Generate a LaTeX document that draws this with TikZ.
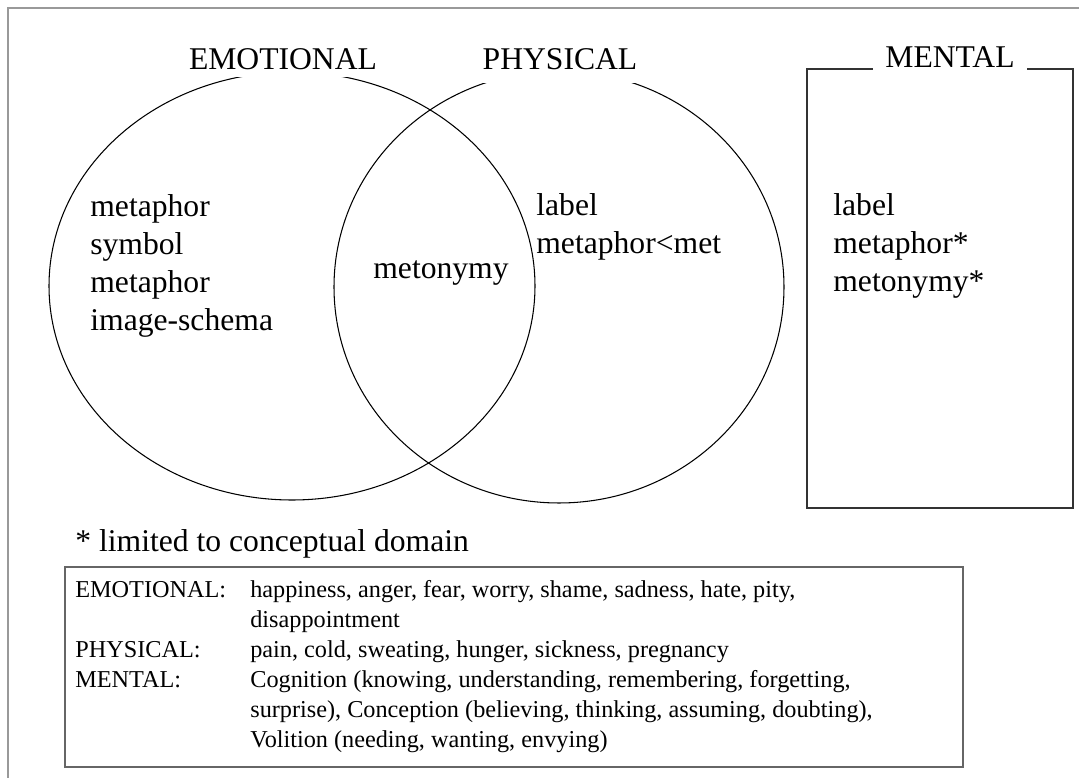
\documentclass[tikz,border=0pt]{standalone}
\usepackage{fontspec}
\setmainfont{Liberation Serif}
\newcommand\bigfont{\fontsize{18}{21.6}\selectfont}
\newcommand\tabfont{\fontsize{13.8}{17}\selectfont}
\tikzset{
  domlabel/.style={fill=white,font=\bigfont,anchor=base,inner xsep=5pt,inner ysep=4pt},
  listtext/.style={font=\bigfont,anchor=base west,inner sep=0pt},
  tabletext/.style={font=\tabfont,anchor=base west,inner sep=0pt}
}
\begin{document}
\begin{tikzpicture}
\useasboundingbox (0,0) rectangle (21.58,15.56);
\fill[white] (0,0) rectangle (21.58,15.56);
\begin{scope}
\clip (0,0) rectangle (21.58,15.56);
\draw[black!40,line width=1.1pt] (0.16,-1) -- (0.16,15.40) -- (23,15.40);
\end{scope}
% the two overlapping domains
\draw[line width=0.6pt] (5.84,9.84) ellipse (4.86 and 4.28);
\draw[line width=0.6pt] (11.18,9.82) ellipse (4.5 and 4.32);
% mental domain
\draw[black!80,line width=0.8pt] (16.14,5.40) rectangle (21.46,14.18);
\node[domlabel] (emo) at (5.66,14.16) {EMOTIONAL};
\node[domlabel,inner ysep=7pt] (phys) at (11.2,14.16) {PHYSICAL};
\node[domlabel,inner xsep=7pt] (ment) at (19.0,14.2) {MENTAL};
\node[listtext] (emolist) at (1.8,11.22) {\begin{tabular}[t]{@{}l@{}}metaphor\\symbol\\metaphor\\image-schema\end{tabular}};
\node[listtext] (metonymy) at (7.46,9.98) {metonymy};
\node[listtext] (physlist) at (10.72,11.24) {\begin{tabular}[t]{@{}l@{}}label\\metaphor<met\end{tabular}};
\node[listtext] (mentlist) at (16.66,11.24) {\begin{tabular}[t]{@{}l@{}}label\\metaphor*\\metonymy*\end{tabular}};
\node[listtext] (note) at (1.5,4.52) {* limited to conceptual domain};
% key to the domains
\draw[black!60,line width=0.6pt] (1.3,0.22) rectangle (19.26,4.22);
\node[tabletext] (key) at (1.5,3.6) {\begin{tabular}[t]{@{}p{3.5cm}@{}l@{}}
EMOTIONAL: & happiness, anger, fear, worry, shame, sadness, hate, pity,\\
 & disappointment\\
PHYSICAL: & pain, cold, sweating, hunger, sickness, pregnancy\\
MENTAL: & Cognition (knowing, understanding, remembering, forgetting,\\
 & surprise), Conception (believing, thinking, assuming, doubting),\\
 & Volition (needing, wanting, envying)
\end{tabular}};
\end{tikzpicture}
\end{document}
